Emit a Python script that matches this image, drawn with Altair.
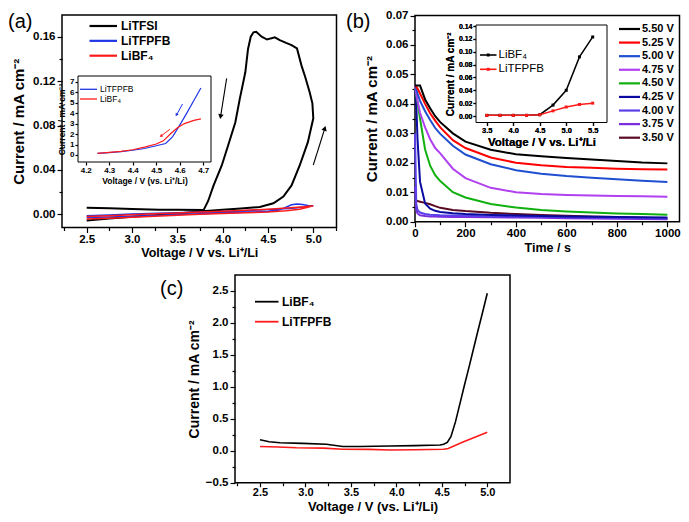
import altair as alt
import pandas as pd

W, H, M = 673, 506, 8
FONT = "Liberation Sans"

# ---------------- (a) cyclic voltammograms ----------------
a_series = ["LiTFSI", "LiTFPFB", "LiBF₄"]
a_colors = ["#000000", "#1f35e6", "#ff1a1a"]
a_tfsi_v = [2.50, 2.75, 3.00, 3.25, 3.50, 3.78, 4.00, 4.20, 4.41, 4.56, 4.67, 4.76, 4.85, 4.94, 5.00,
            4.99, 4.96, 4.91, 4.87, 4.82, 4.76, 4.70, 4.63, 4.575, 4.53, 4.49, 4.43, 4.37, 4.34, 4.31,
            4.28, 4.25, 4.19, 4.14, 4.06, 3.99, 3.90, 3.84, 3.79, 3.50, 3.30, 3.00, 2.75, 2.50]
a_tfsi_i = [-0.0055, -0.0038, -0.0022, -0.0008, 0.0008, 0.0028, 0.0042, 0.0052, 0.0066, 0.0099, 0.0160,
            0.0260, 0.0440, 0.0650, 0.0865,
            0.1000, 0.1100, 0.1240, 0.1340, 0.1495, 0.1525, 0.1545, 0.1570, 0.1595, 0.1585, 0.1575,
            0.1600, 0.1645, 0.1640, 0.1600, 0.1490, 0.1280, 0.1045, 0.0830, 0.0620, 0.0440, 0.0260,
            0.0120, 0.0038, 0.0040, 0.0042, 0.0048, 0.0054, 0.0060]
a_tfpfb_v = [2.50, 2.75, 3.00, 3.25, 3.50, 3.75, 4.00, 4.25, 4.50, 4.62, 4.70, 4.76, 4.82, 4.88, 4.94, 5.00,
             4.90, 4.80, 4.60, 4.40, 4.00, 3.50, 3.00, 2.75, 2.50]
a_tfpfb_i = [-0.0030, -0.0025, -0.0018, -0.0010, -0.0002, 0.0006, 0.0012, 0.0018, 0.0025, 0.0038, 0.0065,
             0.0086, 0.0093, 0.0088, 0.0080, 0.0078,
             0.0066, 0.0056, 0.0046, 0.0038, 0.0026, 0.0014, 0.0002, -0.0006, -0.0012]
a_bf4_v = [2.50, 2.75, 3.00, 3.25, 3.50, 3.75, 4.00, 4.25, 4.50, 4.70, 4.85, 4.95, 5.00,
           4.90, 4.75, 4.50, 4.25, 4.00, 3.75, 3.50, 3.25, 3.00, 2.75, 2.50]
a_bf4_i = [-0.0042, -0.0035, -0.0026, -0.0017, -0.0008, 0.0000, 0.0008, 0.0014, 0.0021, 0.0032, 0.0045,
           0.0065, 0.0078,
           0.0068, 0.0058, 0.0045, 0.0036, 0.0028, 0.0020, 0.0012, 0.0004, -0.0004, -0.0012, -0.0020]
a_xticks = [2.5, 3.0, 3.5, 4.0, 4.5, 5.0]
a_xminor = [2.25, 2.75, 3.25, 3.75, 4.25, 4.75, 5.25]
a_yticks = [0.00, 0.04, 0.08, 0.12, 0.16]
a_yminor = [0.02, 0.06, 0.10, 0.14]
a_arrow_v0 = [4.044, 5.000]
a_arrow_i0 = [0.1225, 0.0444]
a_arrow_v1 = [3.977, 5.127]
a_arrow_i1 = [0.0880, 0.0775]
a_arrow_ang = [189, 18]

# inset of (a)
ai_series = ["LiTFPFB", "LiBF₄"]
ai_colors = ["#1f35e6", "#ff1a1a"]
ai_tfpfb_v = [4.25, 4.30, 4.35, 4.40, 4.45, 4.50, 4.54, 4.57, 4.60, 4.63, 4.66, 4.69]
ai_tfpfb_i = [0.15, 0.22, 0.32, 0.45, 0.62, 0.88, 1.10, 1.75, 2.85, 4.00, 5.20, 6.40]
ai_bf4_v = [4.25, 4.30, 4.35, 4.40, 4.45, 4.50, 4.53, 4.56, 4.59, 4.62, 4.66, 4.69]
ai_bf4_i = [0.15, 0.25, 0.35, 0.50, 0.75, 1.05, 1.35, 2.00, 2.60, 3.00, 3.30, 3.45]
ai_xticks = [4.2, 4.3, 4.4, 4.5, 4.6, 4.7]
ai_yticks = [0, 1, 2, 3, 4, 5, 6, 7]
ai_arrow_v0 = [4.612, 4.558]
ai_arrow_i0 = [4.87, 2.45]
ai_arrow_v1 = [4.586, 4.520]
ai_arrow_i1 = [3.82, 1.81]
ai_arrow_ang = [209, 233]
ai_arrow_s = ["LiTFPFB", "LiBF₄"]

# ---------------- (b) chronoamperometry ----------------
b_series = ["5.50 V", "5.25 V", "5.00 V", "4.75 V", "4.50 V", "4.25 V", "4.00 V", "3.75 V", "3.50 V"]
b_colors = ["#000000", "#ff0000", "#1f4fd0", "#b040f0", "#10b010", "#0a0aa0", "#5a40e8", "#7a2ce0", "#5a0a22"]
b_t = [0, 5, 10, 20, 40, 60, 80, 100, 150, 200, 300, 400, 500, 600, 700, 800, 900, 1000]
b_550 = [0.0462, 0.0462, 0.0462, 0.0462, 0.0415, 0.0385, 0.0358, 0.0338, 0.0300, 0.0272, 0.0244, 0.0229,
         0.0222, 0.0216, 0.0211, 0.0206, 0.0201, 0.0198]
b_525 = [0.0462, 0.0458, 0.0452, 0.0435, 0.0400, 0.0368, 0.0343, 0.0320, 0.0277, 0.0250, 0.0218, 0.0200,
         0.0192, 0.0186, 0.0183, 0.0180, 0.0178, 0.0177]
b_500 = [0.0462, 0.0450, 0.0435, 0.0410, 0.0375, 0.0345, 0.0318, 0.0298, 0.0258, 0.0228, 0.0195, 0.0175,
         0.0163, 0.0155, 0.0149, 0.0144, 0.0139, 0.0135]
b_475 = [0.0462, 0.0435, 0.0410, 0.0370, 0.0320, 0.0280, 0.0250, 0.0232, 0.0180, 0.0148, 0.0115, 0.0100,
         0.0094, 0.0091, 0.0089, 0.0087, 0.0086, 0.0085]
b_450 = [0.0462, 0.0430, 0.0405, 0.0350, 0.0245, 0.0190, 0.0158, 0.0138, 0.0100, 0.0082, 0.0060, 0.0048,
         0.0040, 0.0035, 0.0031, 0.0028, 0.0026, 0.0024]
b_425 = [0.0462, 0.0400, 0.0280, 0.0135, 0.0062, 0.0044, 0.0037, 0.0033, 0.0029, 0.0026, 0.0023, 0.0021,
         0.0019, 0.0018, 0.0017, 0.0016, 0.0015, 0.0014]
b_400 = [0.0300, 0.0060, 0.0040, 0.0031, 0.0026, 0.0024, 0.0023, 0.0022, 0.0021, 0.0020, 0.0018, 0.0017,
         0.0016, 0.0015, 0.0014, 0.0013, 0.0012, 0.0011]
b_375 = [0.0120, 0.0040, 0.0028, 0.0022, 0.0019, 0.0018, 0.0018, 0.0017, 0.0016, 0.0016, 0.0015, 0.0014,
         0.0013, 0.0012, 0.0011, 0.0010, 0.0009, 0.0008]
b_350 = [0.0072, 0.0071, 0.0070, 0.0068, 0.0064, 0.0059, 0.0053, 0.0047, 0.0040, 0.0036, 0.0030, 0.0026,
         0.0023, 0.0020, 0.0018, 0.0016, 0.0013, 0.0011]
b_values = [b_550, b_525, b_500, b_475, b_450, b_425, b_400, b_375, b_350]
b_xticks = [0, 200, 400, 600, 800, 1000]
b_xminor = [100, 300, 500, 700, 900]
b_yticks = [0.00, 0.01, 0.02, 0.03, 0.04, 0.05, 0.06, 0.07]
b_yminor = [0.005, 0.015, 0.025, 0.035, 0.045, 0.055, 0.065]

# inset of (b)
bi_series = ["LiBF₄", "LiTFPFB"]
bi_colors = ["#000000", "#ff1a1a"]
bi_v = [3.50, 3.75, 4.00, 4.25, 4.50, 4.75, 5.00, 5.25, 5.50]
bi_bf4 = [0.001, 0.001, 0.001, 0.001, 0.002, 0.017, 0.040, 0.092, 0.123]
bi_tfpfb = [0.001, 0.001, 0.001, 0.001, 0.002, 0.008, 0.014, 0.018, 0.020]
bi_xticks = [3.5, 4.0, 4.5, 5.0, 5.5]
bi_yticks = [0.00, 0.02, 0.04, 0.06, 0.08, 0.10, 0.12, 0.14]

# ---------------- (c) linear sweep ----------------
c_series = ["LiBF₄", "LiTFPFB"]
c_colors = ["#000000", "#ff1a1a"]
c_bf4_v = [2.50, 2.60, 2.72, 2.97, 3.23, 3.41, 3.60, 3.93, 4.20, 4.48, 4.52, 4.56, 4.60, 4.65, 4.70, 4.75,
           4.80, 4.85, 4.90, 4.95, 5.00]
c_bf4_i = [0.17, 0.14, 0.125, 0.115, 0.10, 0.065, 0.065, 0.073, 0.08, 0.089, 0.10, 0.13, 0.22, 0.45, 0.74,
           1.03, 1.31, 1.60, 1.89, 2.17, 2.46]
c_tfpfb_v = [2.50, 2.70, 2.90, 3.20, 3.41, 3.70, 3.93, 4.20, 4.52, 4.57, 4.74, 5.00]
c_tfpfb_i = [0.065, 0.058, 0.047, 0.040, 0.022, 0.020, 0.012, 0.015, 0.022, 0.035, 0.14, 0.29]
c_xticks = [2.5, 3.0, 3.5, 4.0, 4.5, 5.0]
c_xminor = [2.25, 2.75, 3.25, 3.75, 4.25, 4.75]
c_yticks = [-0.5, 0.0, 0.5, 1.0, 1.5, 2.0, 2.5]
c_yminor = [-0.25, 0.25, 0.75, 1.25, 1.75, 2.25]

# ---------------- panel geometry (page pixels) ----------------
PA = dict(xd=[2.2275, 5.256], xr=[62, 336.5], yd=[-0.0119, 0.1796], yr=[227.5, 15])
PAI = dict(xd=[4.167, 4.733], xr=[78, 211], yd=[-0.67, 7.54], yr=[162, 76])
PB = dict(xd=[0, 1048], xr=[415, 679.5], yd=[0, 0.07], yr=[221.7, 15.5])
PBI = dict(xd=[3.296, 5.77], xr=[476, 607], yd=[-0.0101, 0.1416], yr=[122.5, 25])
PC = dict(xd=[2.225, 5.25], xr=[235, 510], yd=[-0.5, 2.745], yr=[482.7, 275])


def sx(P):
    return alt.Scale(domain=P["xd"], range=[P["xr"][0] - M, P["xr"][1] - M], nice=False, zero=False)


def sy(P):
    return alt.Scale(domain=P["yd"], range=[P["yr"][0] - M, P["yr"][1] - M], nice=False, zero=False)


def xaxis(P, values, fmt="", title="", lsize=11.5, tsize=12.5, tick=5, lpad=1, tpad=3, labels=True,
          title_y=None):
    kw = dict(orient="bottom", offset=(P["yr"][0] - M) - H, values=values, title=title,
              labels=labels, tickSize=tick, tickColor="black", tickWidth=1.2, domain=False, grid=False,
              labelFont=FONT, labelFontSize=lsize, labelFontWeight="bold", labelColor="black",
              titleFont=FONT, titleFontSize=tsize, titleFontWeight="bold", titleColor="black",
              labelPadding=lpad, titlePadding=tpad, labelFlush=False, labelOverlap=False)
    if fmt:
        kw["format"] = fmt
    if title_y is not None:
        kw["titleY"] = title_y
        kw["titleBaseline"] = "alphabetic"
    return alt.Axis(**kw)


def yaxis(P, values, fmt="", title="", lsize=11.5, tsize=15, tick=5, lpad=2, tpad=5, labels=True):
    kw = dict(orient="left", offset=-(P["xr"][0] - M), values=values, title=title,
              labels=labels, tickSize=tick, tickColor="black", tickWidth=1.2, domain=False, grid=False,
              labelFont=FONT, labelFontSize=lsize, labelFontWeight="bold", labelColor="black",
              titleFont=FONT, titleFontSize=tsize, titleFontWeight="bold", titleColor="black",
              labelPadding=lpad, titlePadding=tpad, labelFlush=False, labelOverlap=False)
    if fmt:
        kw["format"] = fmt
    return alt.Axis(**kw)


def frame(P, xax, yax, fill=None, sw=1.5):
    df = pd.DataFrame({"x0": [P["xd"][0]], "x1": [P["xd"][1]], "y0": [P["yd"][0]], "y1": [P["yd"][1]]})
    if fill:
        ch = alt.Chart(df).mark_rect(fill=fill, stroke="black", strokeWidth=sw)
    else:
        ch = alt.Chart(df).mark_rect(fillOpacity=0, stroke="black", strokeWidth=sw)
    return ch.encode(x=alt.X("x0:Q", scale=sx(P), axis=xax), x2="x1:Q",
                     y=alt.Y("y0:Q", scale=sy(P), axis=yax), y2="y1:Q")


def series_df(names, xs, ys):
    rows = []
    for n, xv, yv in zip(names, xs, ys):
        for k, (a, b) in enumerate(zip(xv, yv)):
            rows.append({"s": n, "x": a, "y": b, "i": k})
    return pd.DataFrame(rows)


def lines(P, df, names, colors, sw, xax=None, yax=None, points=0):
    col = alt.Color("s:N", scale=alt.Scale(domain=names, range=colors), legend=None)
    enc = dict(x=alt.X("x:Q", scale=sx(P), axis=xax), y=alt.Y("y:Q", scale=sy(P), axis=yax), color=col)
    out = [alt.Chart(df).mark_line(strokeWidth=sw).encode(order="i:Q", **enc)]
    if points:
        out.append(alt.Chart(df).mark_point(shape="square", filled=True, size=points, opacity=1).encode(**enc))
    return out


def arrows(P, v0, i0, v1, i1, ang, color, sw=1.3, head=30, names=None, colors=None):
    df = pd.DataFrame({"x0": v0, "y0": i0, "x1": v1, "y1": i1, "a": ang,
                       "s": names if names else ["k"] * len(v0)})
    if names:
        col = alt.Color("s:N", scale=alt.Scale(domain=names, range=colors), legend=None)
    else:
        col = alt.value(color)
    rule = alt.Chart(df).mark_rule(strokeWidth=sw).encode(
        x=alt.X("x0:Q", scale=sx(P), axis=None), y=alt.Y("y0:Q", scale=sy(P), axis=None),
        x2="x1:Q", y2="y1:Q", color=col)
    tip = alt.Chart(df).mark_point(shape="triangle-up", filled=True, size=head, opacity=1).encode(
        x=alt.X("x1:Q", scale=sx(P), axis=None), y=alt.Y("y1:Q", scale=sy(P), axis=None),
        angle=alt.Angle("a:Q", scale=None), color=col)
    return [rule, tip]


def legend(labels, colors, y0, y1, lx0, lx1, tx, fsize, weight, sw, marker=0):
    df = pd.DataFrame({"lab": labels})
    ysc = alt.Scale(type="point", domain=labels, range=[y0 - M, y1 - M], padding=0)
    col = alt.Color("lab:N", scale=alt.Scale(domain=labels, range=colors), legend=None)
    y = alt.Y("lab:N", scale=ysc, axis=None)
    base = alt.Chart(df)
    out = [base.mark_rule(strokeWidth=sw).encode(x=alt.value(lx0 - M), x2=alt.value(lx1 - M), y=y, color=col)]
    if marker:
        out.append(base.mark_point(shape="square", filled=True, size=marker, opacity=1).encode(
            x=alt.value((lx0 + lx1) / 2 - M), y=y, color=col))
    out.append(base.mark_text(align="left", baseline="middle", font=FONT, fontSize=fsize,
                              fontWeight=weight, color="black").encode(
        x=alt.value(tx - M), y=y, text="lab:N"))
    return out


def plabel(t, x, y):
    return alt.Chart(pd.DataFrame({"t": [t]})).mark_text(
        align="left", baseline="middle", font=FONT, fontSize=20, color="black").encode(
        x=alt.value(x - M), y=alt.value(y - M), text="t:N")


layers = []

# ---- panel (a)
layers.append(frame(PA, xaxis(PA, a_xminor, tick=3, labels=False), yaxis(PA, a_yminor, tick=3, labels=False)))
df_a = series_df(a_series, [a_tfsi_v, a_tfpfb_v, a_bf4_v], [a_tfsi_i, a_tfpfb_i, a_bf4_i])
layers += lines(PA, df_a[df_a.s == "LiTFSI"], a_series, a_colors, 2.0,
                xax=xaxis(PA, a_xticks, ".1f", "Voltage / V vs. Li⁺/Li", tpad=1),
                yax=yaxis(PA, a_yticks, ".2f", "Current / mA cm⁻²", tpad=6))
layers += lines(PA, df_a[df_a.s != "LiTFSI"], a_series, a_colors, 1.5)
layers += arrows(PA, a_arrow_v0, a_arrow_i0, a_arrow_v1, a_arrow_i1, a_arrow_ang, "black", sw=1.1)
layers += legend(a_series, a_colors, 26, 55.7, 89.5, 117, 121, 12, "bold", 2.2)
# inset (a)
layers.append(frame(PAI, None, None, fill="white", sw=1))
df_ai = series_df(ai_series, [ai_tfpfb_v, ai_bf4_v], [ai_tfpfb_i, ai_bf4_i])
layers += lines(PAI, df_ai, ai_series, ai_colors, 1.2,
                xax=xaxis(PAI, ai_xticks, ".1f", "Voltage / V (vs. Li⁺/Li)", lsize=8, tsize=8.5, tick=3, lpad=1, tpad=2),
                yax=yaxis(PAI, ai_yticks, "d", "Current / mA cm⁻²", lsize=8, tsize=8.5, tick=3, lpad=1, tpad=3))
layers += arrows(PAI, ai_arrow_v0, ai_arrow_i0, ai_arrow_v1, ai_arrow_i1, ai_arrow_ang, "black",
                 sw=1, head=12, names=ai_arrow_s, colors=ai_colors)
layers += legend(ai_series, ai_colors, 89.3, 99, 80, 97, 100, 8.5, "normal", 1.3)

# ---- panel (b)
layers.append(frame(PB, xaxis(PB, b_xminor, tick=3, labels=False), yaxis(PB, b_yminor, tick=3, labels=False)))
df_b = series_df(b_series[::-1], [b_t] * 9, b_values[::-1])
layers += lines(PB, df_b, b_series, b_colors, 2.0,
                xax=xaxis(PB, b_xticks, "d", "Time / s", tpad=2),
                yax=yaxis(PB, b_yticks, ".2f", "Current / mA cm⁻²", tpad=6))
layers += legend(b_series, b_colors, 29, 137.7, 619, 640, 642, 11, "bold", 2.2)
# inset (b)
layers.append(frame(PBI, None, None, fill="white", sw=1))
df_bi = series_df(bi_series, [bi_v, bi_v], [bi_bf4, bi_tfpfb])
layers += lines(PBI, df_bi, bi_series, bi_colors, 1.5,
                xax=xaxis(PBI, bi_xticks, ".1f", "Voltage / V vs. Li⁺/Li", lsize=7.5, tsize=11.5, tick=3, lpad=1, tpad=2),
                yax=yaxis(PBI, bi_yticks, ".2f", "Current / mA cm⁻²", lsize=7, tsize=10, tick=3, lpad=1, tpad=3),
                points=9)
layers += legend(bi_series, bi_colors, 55, 69.3, 480, 496.5, 498.5, 11.5, "normal", 1.6, marker=9)

# ---- panel (c)
layers.append(frame(PC, xaxis(PC, c_xminor, tick=3, labels=False), yaxis(PC, c_yminor, tick=3, labels=False)))
df_c = series_df(c_series, [c_bf4_v, c_tfpfb_v], [c_bf4_i, c_tfpfb_i])
layers += lines(PC, df_c, c_series, c_colors, 1.6,
                xax=xaxis(PC, c_xticks, ".1f", "Voltage / V (vs. Li⁺/Li)", lsize=11, tsize=13, tick=4, lpad=0,
                          title_y=(H - 3.5) - (PC["yr"][0] - M)),
                yax=yaxis(PC, c_yticks, ".1f", "Current / mA cm⁻²", tsize=14, tpad=4))
layers += legend(c_series, c_colors, 301.7, 321.7, 255, 278.5, 282, 12, "bold", 1.8)

# ---- panel letters
layers += [plabel("(a)", 8, 22), plabel("(b)", 346, 22), plabel("(c)", 160, 289)]

chart = alt.layer(*layers).resolve_scale(
    x="independent", y="independent", color="independent"
).properties(
    width=W, height=H, autosize=alt.AutoSizeParams(type="none"), padding=0, background="white"
).configure_view(stroke="transparent")

chart.save("out.html", embed_options={"renderer": "svg", "actions": False})
